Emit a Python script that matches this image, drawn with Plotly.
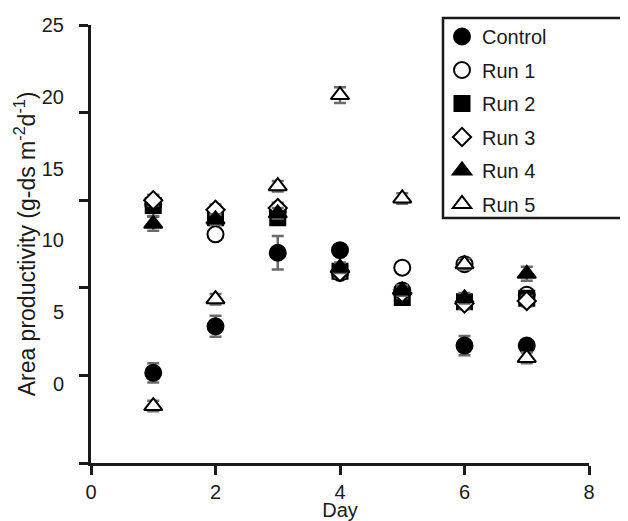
import plotly.graph_objects as go

days = [1, 2, 3, 4, 5, 6, 7]
control = [5.15, 7.8, 12.0, 12.15, 9.85, 6.7, 6.7]
control_err = [0.55, 0.6, 0.95, 0.3, 0.3, 0.55, 0.25]
run1 = [14.75, 13.05, 14.35, 10.85, 11.15, 11.35, 9.6]
run1_err = [0.3, 0.3, 0.3, 0.3, 0.3, 0.3, 0.3]
run2 = [14.7, 14.0, 14.0, 10.95, 9.45, 9.2, 9.4]
run2_err = [0.6, 0.3, 0.3, 0.3, 0.3, 0.3, 0.3]
run3 = [15.0, 14.45, 14.55, 10.9, 9.7, 9.1, 9.25]
run3_err = [0.3, 0.3, 0.3, 0.3, 0.3, 0.3, 0.3]
run4 = [13.65, 13.9, 14.25, 11.15, 9.85, 9.4, 10.8]
run4_err = [0.4, 0.3, 0.3, 0.3, 0.3, 0.3, 0.4]
run5 = [3.25, 9.35, 15.8, 21.0, 15.1, 11.35, 6.0]
run5_err = [0.3, 0.3, 0.3, 0.45, 0.3, 0.3, 0.3]

y_ticks = [0, 5, 10, 15, 20, 25]
x_ticks = [0, 2, 4, 6, 8]

FONT = "Liberation Sans, Arial, sans-serif"
FS = 20

series = [
    ("Control", control, control_err, "circle", "black"),
    ("Run 1", run1, run1_err, "circle", "white"),
    ("Run 2", run2, run2_err, "square", "black"),
    ("Run 3", run3, run3_err, "diamond", "white"),
    ("Run 4", run4, run4_err, "triangle-up", "black"),
    ("Run 5", run5, run5_err, "triangle-up", "white"),
]
sizes = {"circle": 16, "square": 15, "diamond": 14, "triangle-up": 16}

fig = go.Figure()
for name, vals, errs, sym, fill in series:
    fig.add_trace(go.Scatter(
        x=days, y=vals, name=name, mode="markers", legendgroup=name,
        error_y=dict(type="data", array=errs, visible=True,
                     color="#6b6b6b", thickness=2.5, width=6),
        marker=dict(symbol=sym, size=sizes[sym], color=fill,
                    line=dict(color="black", width=2)),
    ))

# empty trace so the label axis is drawn
fig.add_trace(go.Scatter(x=[], y=[], yaxis="y2", showlegend=False,
                         hoverinfo="skip"))

# page body has an 8px margin: figure is drawn offset by (8, 8)
W, H = 620, 513
L, T = 83, 17
PW, PH = 498, 438

fig.update_layout(
    width=W, height=H,
    margin=dict(l=L, r=W - L - PW, t=T, b=H - T - PH, autoexpand=False),
    paper_bgcolor="white", plot_bgcolor="white",
    font=dict(family=FONT, size=FS, color="#1a1a1a"),
    showlegend=True,
    legend=dict(x=(442 - 91) / PW, y=1 + (25 - 17) / PH,
                xanchor="left", yanchor="top",
                bgcolor="rgba(0,0,0,0)", borderwidth=0,
                font=dict(size=FS), tracegroupgap=4.5,
                itemwidth=30),
    xaxis=dict(range=[0, 8], tickvals=x_ticks, showline=True,
               linecolor="#1a1a1a", linewidth=2.5, ticks="outside",
               ticklen=9, tickwidth=2.5, tickcolor="#1a1a1a",
               showgrid=False, zeroline=False, automargin=False,
               title=dict(text="Day", standoff=0, font=dict(size=FS))),
    yaxis=dict(range=[0, 25], tickvals=y_ticks, showticklabels=False,
               showline=True, linecolor="#1a1a1a", linewidth=2.5,
               ticks="outside", ticklen=9, tickwidth=2.5,
               tickcolor="#1a1a1a", showgrid=False, zeroline=False,
               automargin=False,
               title=dict(text="Area productivity (g-ds m<sup>-2</sup>d<sup>-1</sup>)",
                          standoff=38, font=dict(size=23))),
    yaxis2=dict(range=[-5.49, 25], tickvals=y_ticks, overlaying="y",
                side="left", showline=False, showgrid=False,
                zeroline=False, ticks="outside", ticklen=22,
                tickcolor="rgba(0,0,0,0)", automargin=False),
)

fig.add_shape(type="rect", xref="paper", yref="paper",
              x0=(443 - 91) / PW, x1=(627 - 91) / PW,
              y0=1 - (218 - 25) / PH, y1=1 + (25 - 18) / PH,
              line=dict(color="#1a1a1a", width=2.5), fillcolor="rgba(0,0,0,0)")

fig.write_html("out.html")
